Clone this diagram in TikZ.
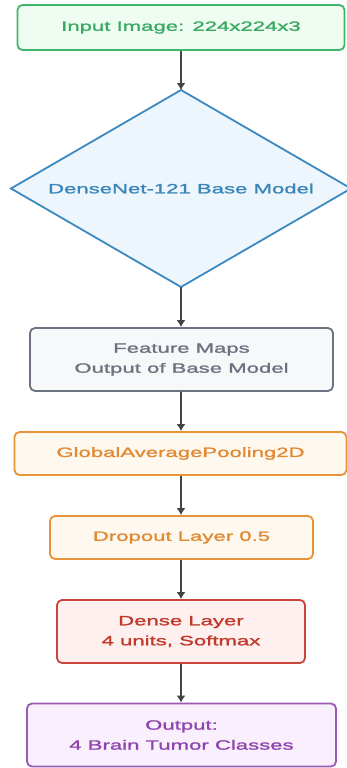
\documentclass[tikz,border=0pt]{standalone}
\usepackage{fontspec}
\setmainfont[FakeStretch=1.64,FakeBold=1.5]{Liberation Sans}
\usetikzlibrary{shapes.geometric,arrows.meta}
\definecolor{gB}{HTML}{3DB76A}\definecolor{gF}{HTML}{EEFCF2}\definecolor{gT}{HTML}{3AAA62}
\definecolor{bB}{HTML}{3B89C0}\definecolor{bF}{HTML}{EEF6FD}\definecolor{bT}{HTML}{3A86B9}
\definecolor{kB}{HTML}{6B7280}\definecolor{kF}{HTML}{F7F8FA}\definecolor{kT}{HTML}{6B7280}
\definecolor{oB}{HTML}{E8923A}\definecolor{oF}{HTML}{FFF8EE}\definecolor{oT}{HTML}{E08A35}
\definecolor{rB}{HTML}{C9443A}\definecolor{rF}{HTML}{FDF0EF}\definecolor{rT}{HTML}{C0392B}
\definecolor{pB}{HTML}{9B59B6}\definecolor{pF}{HTML}{FAF0FD}\definecolor{pT}{HTML}{8E44AD}
\definecolor{arr}{HTML}{444444}
\tikzset{
  boxbase/.style={rectangle, rounded corners=5pt, line width=1.8pt, align=center, inner sep=0pt,
    font=\fontsize{13.5}{20}\selectfont},
  arrowline/.style={draw=arr, line width=1.4pt, -{Latex[length=7pt,width=9pt]}},
}
\begin{document}
\begin{tikzpicture}[x=1pt,y=-1pt]
\useasboundingbox (0,0) rectangle (347,768);
\node[boxbase, draw=gB, fill=gF, text=gT, minimum width=327pt, minimum height=45pt] (inp) at (181,27.5) {Input Image: 224x224x3};
\coordinate (dtop) at (181,90);
\coordinate (dright) at (351,188.5);
\coordinate (dbot) at (181,287);
\coordinate (dleft) at (11,188.5);
\draw[draw=bB, fill=bF, line width=1.8pt, line join=miter] (dtop) -- (dright) -- (dbot) -- (dleft) -- cycle;
\node[text=bT, font=\fontsize{13.5}{20}\selectfont, inner sep=0pt] (dn) at (181,188.5) {DenseNet-121 Base Model};
\node[boxbase, draw=kB, fill=kF, text=kT, minimum width=303pt, minimum height=63pt] (fm) at (181.5,359.5) {Feature Maps\\Output of Base Model};
\node[boxbase, draw=oB, fill=oF, text=oT, minimum width=332pt, minimum height=43pt] (gap) at (180.5,453.5) {GlobalAveragePooling2D};
\node[boxbase, draw=oB, fill=oF, text=oT, minimum width=263pt, minimum height=43pt] (drop) at (181.5,537.5) {Dropout Layer 0.5};
\node[boxbase, draw=rB, fill=rF, text=rT, minimum width=248pt, minimum height=63pt] (dense) at (181,631.5) {Dense Layer\\4 units, Softmax};
\node[boxbase, draw=pB, fill=pF, text=pT, minimum width=309pt, minimum height=63pt] (out) at (181.5,735) {Output:\\4 Brain Tumor Classes};
\draw[arrowline] (inp.south -| dtop) -- (dtop);
\draw[arrowline] (dbot) -- (fm.north -| dbot);
\draw[arrowline] (fm.south -| dbot) -- (gap.north -| dbot);
\draw[arrowline] (gap.south -| dbot) -- (drop.north -| dbot);
\draw[arrowline] (drop.south -| dbot) -- (dense.north -| dbot);
\draw[arrowline] (dense.south -| dbot) -- (out.north -| dbot);
\end{tikzpicture}
\end{document}
